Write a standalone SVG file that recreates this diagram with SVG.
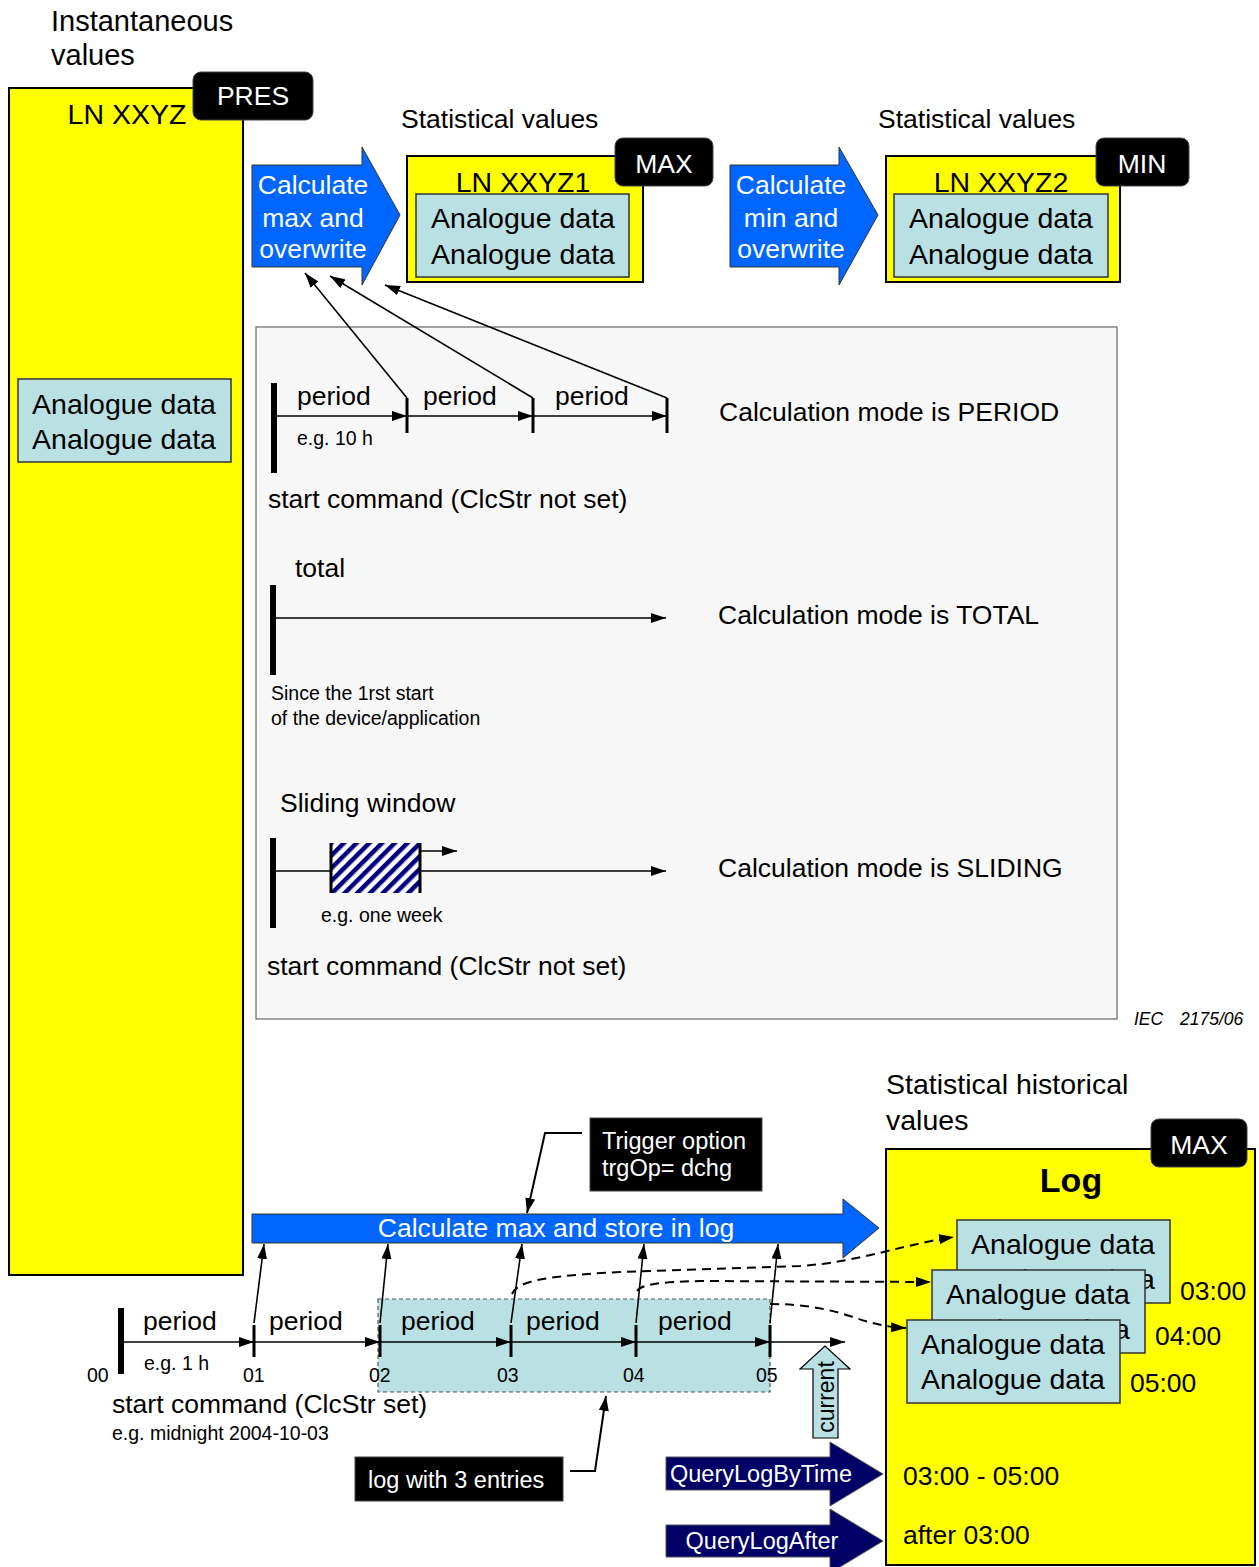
<svg xmlns="http://www.w3.org/2000/svg" width="1259" height="1567" viewBox="0 0 1259 1567">
<style>
text{font-family:"Liberation Sans",Arial,sans-serif;fill:#000}
.t{font-size:26.5px}
.big{font-size:28.5px}
.sm{font-size:19.5px}
.lb{font-size:23.5px}
.w{fill:#fff}
.yel{fill:#ffff00;stroke:#000;stroke-width:2}
.cy{fill:#b9e0e3;stroke:#333;stroke-width:1.5}
.tag{fill:#000;stroke:#444;stroke-width:1}
.blue{fill:#0066ff;stroke:#333;stroke-width:1}
.navy{fill:#000066;stroke:#555;stroke-width:1}
.ln{stroke:#000;stroke-width:1.6;fill:none}
.ar{marker-end:url(#ah)}
.thick{stroke:#000;stroke-width:6}
.tick{stroke:#000;stroke-width:3}
.dash{stroke:#000;stroke-width:2;fill:none;stroke-dasharray:9,6;marker-end:url(#ah)}
</style>
<defs>
<marker id="ah" markerUnits="userSpaceOnUse" markerWidth="16" markerHeight="10" refX="15" refY="5" orient="auto">
<path d="M0,0 L15,5 L0,10 Z" fill="#000"/>
</marker>
<pattern id="hatch" patternUnits="userSpaceOnUse" width="9" height="9" patternTransform="rotate(45)">
<rect width="9" height="9" fill="#fff"/>
<rect width="4.5" height="9" fill="#000080"/>
</pattern>
</defs>

<g id="title-instantaneous">
<text x="51" y="31" font-size="29">Instantaneous</text>
<text x="51" y="65" font-size="29">values</text>
</g>

<g id="ln-xxyz">
<rect class="yel" x="9" y="88" width="234" height="1187"/>
<text class="big" x="127" y="124" text-anchor="middle">LN XXYZ</text>
<rect class="cy" x="18" y="379" width="213" height="83"/>
<text class="big" x="124" y="414" text-anchor="middle">Analogue data</text>
<text class="big" x="124" y="449" text-anchor="middle">Analogue data</text>
</g>
<g id="tag-pres">
<rect class="tag" x="193" y="72" width="120" height="48" rx="8"/>
<text class="t w" x="253" y="105" text-anchor="middle">PRES</text>
</g>

<g id="panel">
<rect x="256" y="327" width="861" height="692" fill="#f7f7f7" stroke="#666" stroke-width="1.2"/>
</g>

<g id="calc-max">
<polygon class="blue" points="252,165 362,165 362,147 400,215 362,285 362,267 252,267"/>
<text class="t w" x="313" y="194" text-anchor="middle">Calculate</text>
<text class="t w" x="313" y="227" text-anchor="middle">max and</text>
<text class="t w" x="313" y="258" text-anchor="middle">overwrite</text>
</g>
<g id="stat-values-1">
<text class="t" x="401" y="128">Statistical values</text>
</g>
<g id="ln-xxyz1">
<rect class="yel" x="407" y="156" width="236" height="126"/>
<text class="big" x="523" y="192" text-anchor="middle">LN XXYZ1</text>
<rect class="cy" x="416" y="194" width="213" height="83"/>
<text class="big" x="523" y="228" text-anchor="middle">Analogue data</text>
<text class="big" x="523" y="264" text-anchor="middle">Analogue data</text>
</g>
<g id="tag-max1">
<rect class="tag" x="615" y="138" width="98" height="48" rx="8"/>
<text class="t w" x="664" y="173" text-anchor="middle">MAX</text>
</g>

<g id="calc-min">
<polygon class="blue" points="730,165 839,165 839,147 878,215 839,285 839,267 730,267"/>
<text class="t w" x="791" y="194" text-anchor="middle">Calculate</text>
<text class="t w" x="791" y="227" text-anchor="middle">min and</text>
<text class="t w" x="791" y="258" text-anchor="middle">overwrite</text>
</g>
<g id="stat-values-2">
<text class="t" x="878" y="128">Statistical values</text>
</g>
<g id="ln-xxyz2">
<rect class="yel" x="886" y="156" width="234" height="126"/>
<text class="big" x="1001" y="192" text-anchor="middle">LN XXYZ2</text>
<rect class="cy" x="894" y="194" width="214" height="83"/>
<text class="big" x="1001" y="228" text-anchor="middle">Analogue data</text>
<text class="big" x="1001" y="264" text-anchor="middle">Analogue data</text>
</g>
<g id="tag-min">
<rect class="tag" x="1096" y="138" width="93" height="48" rx="8"/>
<text class="t w" x="1142" y="173" text-anchor="middle">MIN</text>
</g>

<g id="mode-period">
<line class="thick" x1="274" y1="383" x2="274" y2="473"/>
<line class="tick" x1="407" y1="398" x2="407" y2="433"/>
<line class="tick" x1="533" y1="398" x2="533" y2="433"/>
<line class="tick" x1="667" y1="398" x2="667" y2="433"/>
<text class="t" x="297" y="405">period</text>
<text class="t" x="423" y="405">period</text>
<text class="t" x="555" y="405">period</text>
<text class="sm" x="297" y="445">e.g. 10 h</text>
<text class="t" x="268" y="508">start command (ClcStr not set)</text>
<text class="t" x="719" y="421">Calculation mode is PERIOD</text>
</g>

<g id="mode-total">
<text class="t" x="295" y="577">total</text>
<line class="thick" x1="273" y1="585" x2="273" y2="675"/>
<text class="sm" x="271" y="700">Since the 1rst start</text>
<text class="sm" x="271" y="725">of the device/application</text>
<text class="t" x="718" y="624">Calculation mode is TOTAL</text>
</g>

<g id="mode-sliding">
<text class="t" x="280" y="812">Sliding window</text>
<line class="thick" x1="273" y1="838" x2="273" y2="928"/>
<rect x="330" y="843" width="91" height="50" fill="url(#hatch)"/>
<line class="tick" x1="331" y1="843" x2="331" y2="893"/>
<line class="tick" x1="420" y1="843" x2="420" y2="893"/>
<text class="sm" x="321" y="922">e.g. one week</text>
<text class="t" x="267" y="975">start command (ClcStr not set)</text>
<text class="t" x="718" y="877">Calculation mode is SLIDING</text>
</g>

<g id="iec">
<text x="1134" y="1025" font-size="17.5" font-style="italic">IEC</text>
<text x="1180" y="1025" font-size="17.5" font-style="italic">2175/06</text>
</g>

<g id="stat-hist">
<text class="big" x="886" y="1094">Statistical historical</text>
<text class="big" x="886" y="1130">values</text>
</g>

<g id="log">
<rect class="yel" x="886" y="1149" width="369" height="416"/>
<text x="1071" y="1192" font-size="34" font-weight="bold" text-anchor="middle">Log</text>
<rect class="cy" x="957" y="1220" width="213" height="83"/>
<text class="big" x="1063" y="1254" text-anchor="middle">Analogue data</text>
<text class="big" x="1063" y="1289" text-anchor="middle">Analogue data</text>
<rect class="cy" x="932" y="1270" width="213" height="83"/>
<text class="big" x="1038" y="1304" text-anchor="middle">Analogue data</text>
<text class="big" x="1038" y="1339" text-anchor="middle">Analogue data</text>
<rect class="cy" x="907" y="1320" width="213" height="83"/>
<text class="big" x="1013" y="1354" text-anchor="middle">Analogue data</text>
<text class="big" x="1013" y="1389" text-anchor="middle">Analogue data</text>
<text class="t" x="1180" y="1300">03:00</text>
<text class="t" x="1155" y="1345">04:00</text>
<text class="t" x="1130" y="1392">05:00</text>
<text class="t" x="903" y="1485">03:00 - 05:00</text>
<text class="t" x="903" y="1544">after 03:00</text>
</g>
<g id="tag-max-log">
<rect class="tag" x="1151" y="1119" width="96" height="48" rx="8"/>
<text class="t w" x="1199" y="1154" text-anchor="middle">MAX</text>
</g>

<g id="log-window">
<rect x="378" y="1299" width="392" height="93" fill="#b9e0e3" stroke="#555" stroke-width="1.2" stroke-dasharray="4,3"/>
</g>

<g id="calc-store">
<polygon class="blue" points="252,1214 843,1214 843,1199 879,1228 843,1258 843,1243 252,1243"/>
<text class="t w" x="556" y="1237" text-anchor="middle">Calculate max and store in log</text>
</g>

<g id="trigger-note">
<rect class="tag" x="590" y="1118" width="172" height="73"/>
<text class="lb w" x="602" y="1149">Trigger option</text>
<text class="lb w" x="602" y="1176">trgOp= dchg</text>
</g>

<g id="bottom-timeline">
<line class="thick" x1="121" y1="1308" x2="121" y2="1374"/>
<line class="tick" x1="254" y1="1325" x2="254" y2="1357"/>
<line class="tick" x1="380" y1="1325" x2="380" y2="1357"/>
<line class="tick" x1="511" y1="1325" x2="511" y2="1357"/>
<line class="tick" x1="636" y1="1325" x2="636" y2="1357"/>
<line class="tick" x1="770" y1="1325" x2="770" y2="1357"/>
<text class="t" x="143" y="1330">period</text>
<text class="t" x="269" y="1330">period</text>
<text class="t" x="401" y="1330">period</text>
<text class="t" x="526" y="1330">period</text>
<text class="t" x="658" y="1330">period</text>
<text class="sm" x="144" y="1370">e.g. 1 h</text>
<text class="sm" x="87" y="1382">00</text>
<text class="sm" x="243" y="1382">01</text>
<text class="sm" x="369" y="1382">02</text>
<text class="sm" x="497" y="1382">03</text>
<text class="sm" x="623" y="1382">04</text>
<text class="sm" x="756" y="1382">05</text>
<text class="t" x="112" y="1413">start command (ClcStr set)</text>
<text class="sm" x="112" y="1440">e.g. midnight 2004-10-03</text>
</g>

<g id="current">
<polygon points="813,1438 813,1369 800,1369 825,1346 850,1369 838,1369 838,1438" fill="#b9e0e3" stroke="#000" stroke-width="1.2"/>
<text x="0" y="0" font-size="23" text-anchor="middle" transform="translate(834,1397) rotate(-90)">current</text>
</g>

<g id="log-note">
<rect class="tag" x="355" y="1457" width="208" height="44"/>
<text class="lb w" x="368" y="1488">log with 3 entries</text>
</g>

<g id="query-by-time">
<polygon class="navy" points="666,1457 830,1457 830,1442 883,1474 830,1506 830,1490 666,1490"/>
<text class="lb w" x="761" y="1482" text-anchor="middle">QueryLogByTime</text>
</g>
<g id="query-after">
<polygon class="navy" points="666,1525 830,1525 830,1509 883,1541 830,1573 830,1557 666,1557"/>
<text class="lb w" x="762" y="1549" text-anchor="middle">QueryLogAfter</text>
</g>

<g id="connectors">
<line class="ln ar" x1="274" y1="416" x2="407" y2="416"/>
<line class="ln ar" x1="407" y1="416" x2="533" y2="416"/>
<line class="ln ar" x1="533" y1="416" x2="667" y2="416"/>
<line class="ln ar" x1="407" y1="398" x2="305" y2="273"/>
<line class="ln ar" x1="533" y1="398" x2="330" y2="276"/>
<line class="ln ar" x1="667" y1="398" x2="385" y2="285"/>
<line class="ln ar" x1="273" y1="618" x2="666" y2="618"/>
<line class="ln" x1="273" y1="871" x2="330" y2="871"/>
<line class="ln ar" x1="421" y1="871" x2="666" y2="871"/>
<line class="ln ar" x1="421" y1="851" x2="457" y2="851"/>
<line class="ln ar" x1="121" y1="1342" x2="254" y2="1342"/>
<line class="ln ar" x1="254" y1="1342" x2="380" y2="1342"/>
<line class="ln ar" x1="380" y1="1342" x2="511" y2="1342"/>
<line class="ln ar" x1="511" y1="1342" x2="636" y2="1342"/>
<line class="ln ar" x1="636" y1="1342" x2="770" y2="1342"/>
<line class="ln ar" x1="770" y1="1342" x2="845" y2="1342"/>
<line class="ln ar" x1="254" y1="1323" x2="264" y2="1244"/>
<line class="ln ar" x1="380" y1="1323" x2="388" y2="1244"/>
<line class="ln ar" x1="511" y1="1323" x2="522" y2="1244"/>
<line class="ln ar" x1="636" y1="1323" x2="644" y2="1244"/>
<line class="ln ar" x1="770" y1="1323" x2="778" y2="1244"/>
<path class="dash" d="M512,1294 C517,1282 540,1276 620,1272 L800,1266 C860,1262 900,1245 954,1237"/>
<path class="dash" d="M637,1291 C642,1284 660,1282 700,1281 L931,1282"/>
<path class="dash" d="M770,1304 C800,1304 825,1308 850,1316 C870,1323 885,1327 906,1328"/>
<polyline class="ln ar" style="stroke-width:2" points="582,1133 545,1133 527,1213"/>
<polyline class="ln ar" style="stroke-width:2" points="570,1471 595,1471 606,1396"/>
</g>
</svg>
